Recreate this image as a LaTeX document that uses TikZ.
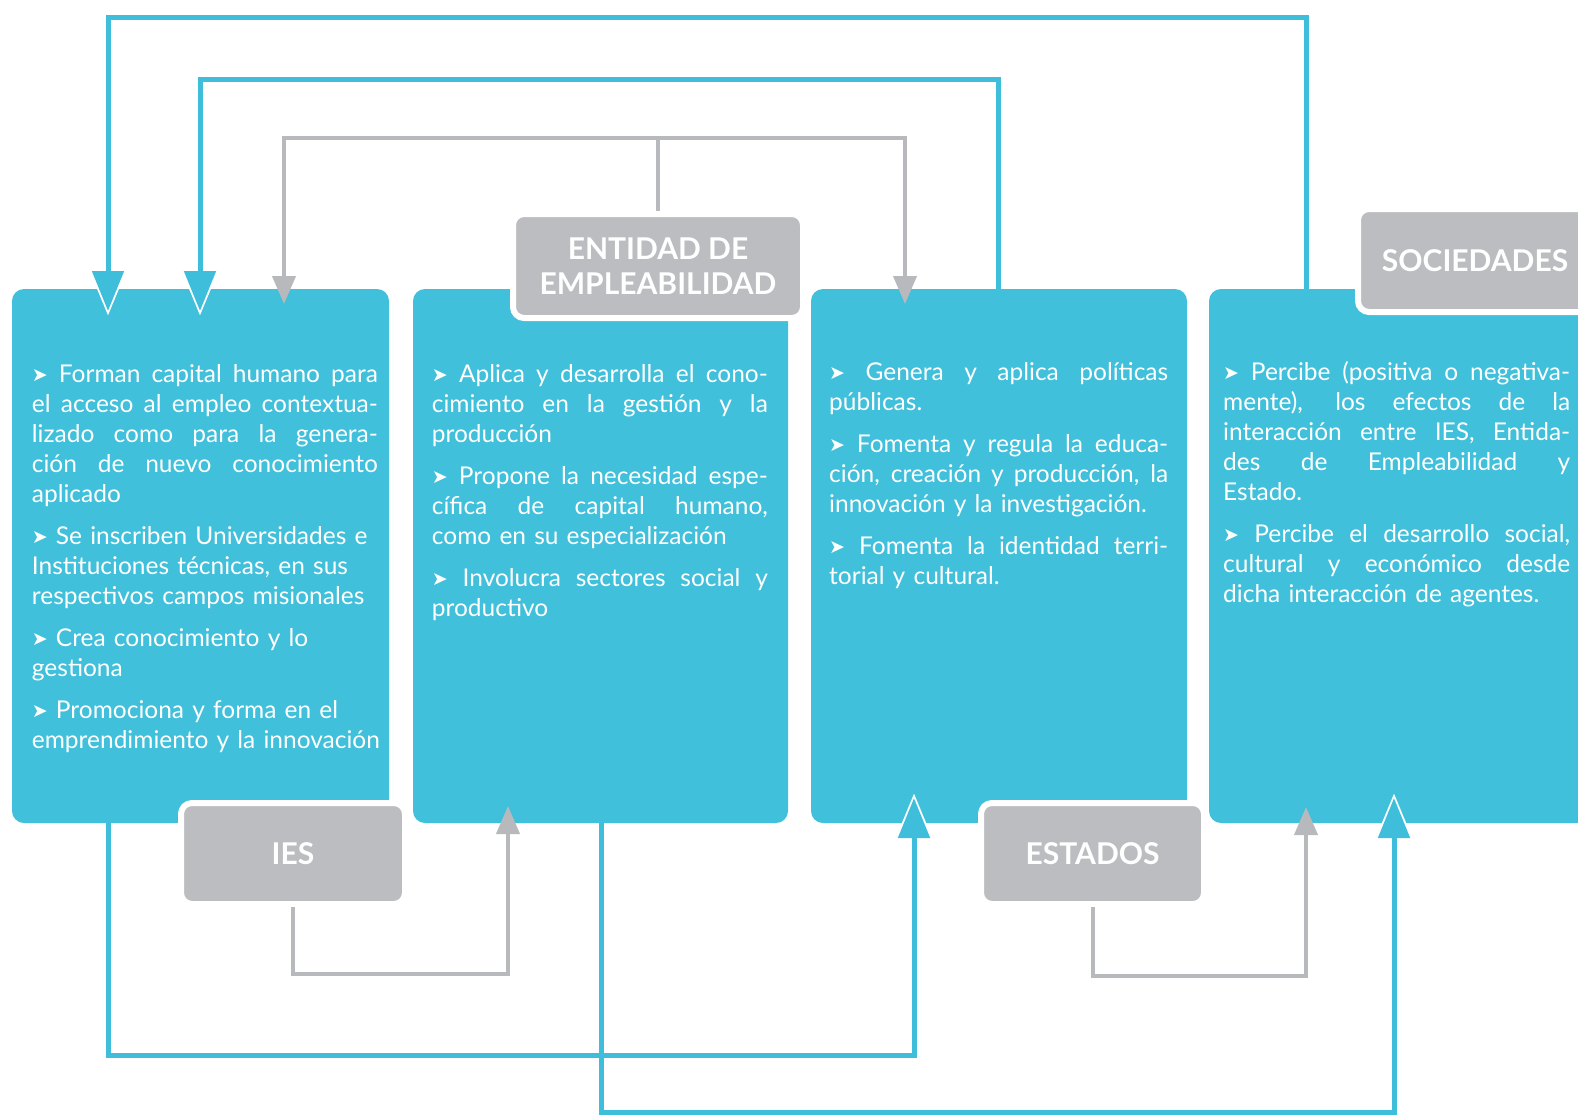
\documentclass[tikz,border=0pt]{standalone}
\usepackage{fontspec}
\setmainfont{Lato}
\newfontfamily\symf{DejaVu Sans}
\usetikzlibrary{arrows.meta}

\definecolor{cyanbox}{HTML}{40C0DA}
\definecolor{cyanln}{HTML}{3EBEDA}
\definecolor{graylab}{HTML}{BCBDC0}
\definecolor{grayln}{HTML}{B8B9BC}

% bullet, justified line, ragged line, paragraph gap
\newcommand\bul{{\symf\fontsize{19}{19}\selectfont\raisebox{0.5pt}{➤}} }
\newcommand\jline[1]{\par\hbox to \hsize{\spaceskip=\fontdimen2\font plus 1fil\relax\rule{0pt}{20pt}#1}}
\newcommand\lline[1]{\par\hbox to \hsize{\rule{0pt}{20pt}#1\hfil}}
\newcommand\pgap{\par\vspace{12pt}}

% blue connector: white halo under the tip, then the cyan line and tip
\newcommand\bluepath[1]{%
  \draw[bunder] #1;
  \draw[bover] #1;}

\tikzset{
  box/.style={fill=cyanbox, rounded corners=12pt, inner sep=0pt},
  lab/.style={fill=graylab, draw=white, line width=6pt, rounded corners=11pt,
    text=white, font=\fontsize{30}{35}\selectfont\bfseries, align=center, inner sep=0pt},
  txt/.style={anchor=north west, inner sep=0pt, text=white, align=left,
    font=\fontsize{24.5}{30}\selectfont,
    execute at begin node={\setlength\parindent{0pt}\baselineskip=30pt}},
  bover/.style={draw=cyanln, line width=5pt, -{Triangle[width=31pt,length=40pt]}},
  bunder/.style={draw=white, line width=5pt, shorten >=-4.5pt,
    -{Triangle[width=40pt,length=50pt]}},
  gline/.style={draw=grayln, line width=4pt, -{Triangle[width=23pt,length=28pt]}},
}

\begin{document}
\begin{tikzpicture}[x=1pt,y=-1pt]
\useasboundingbox (0,0) rectangle (1578,1116);
\fill[white] (0,0) rectangle (1578,1116);

% the four actor panels
\node[box, minimum width=377pt, minimum height=534pt] (b1) at (200.5,556) {};
\node[box, minimum width=375pt, minimum height=534pt] (b2) at (600.5,556) {};
\node[box, minimum width=376pt, minimum height=534pt] (b3) at (999,556) {};
\node[box, minimum width=401pt, minimum height=534pt] (b4) at (1409.5,556) {};

% routing points
\coordinate (k1) at (1306,18);   \coordinate (k2) at (108,18);   \coordinate (a1) at (108,311);
\coordinate (k3) at (998,79);    \coordinate (k4) at (200,79);   \coordinate (a2) at (200,311);
\coordinate (k5) at (658,138);   \coordinate (k6) at (284,138);  \coordinate (a3) at (284,304);
\coordinate (k7) at (905,138);   \coordinate (a4) at (905,304);
\coordinate (k8) at (108,1055);  \coordinate (k9) at (914,1055); \coordinate (a5) at (914,798);
\coordinate (k10) at (601,1112); \coordinate (k11) at (1394,1112); \coordinate (a6) at (1394,798);
\coordinate (k12) at (293,974);  \coordinate (k13) at (508,974); \coordinate (a7) at (508,806);
\coordinate (k14) at (1092.5,976); \coordinate (k15) at (1306,976); \coordinate (a8) at (1306,807);

% labels
\node[lab, minimum width=290pt, minimum height=104pt] (ent) at (658,266) {ENTIDAD DE\\EMPLEABILIDAD};
\node[lab, minimum width=234pt, minimum height=103pt] (soc) at (1475,260.5) {SOCIEDADES};
\node[lab, minimum width=224pt, minimum height=101pt] (ies) at (293,853.5) {IES};
\node[lab, minimum width=223pt, minimum height=101pt] (est) at (1092.5,853.5) {ESTADOS};

% connectors
\bluepath{(b4.north -| k1) -- (k1) -- (k2) -- (a1)}
\bluepath{(b3.north -| k3) -- (k3) -- (k4) -- (a2)}
\draw[gline] (ent.north) -- (k5) -- (k6) -- (a3);
\draw[gline] (k5) -- (k7) -- (a4);
\bluepath{(b1.south -| k8) -- (k8) -- (k9) -- (a5)}
\bluepath{(b2.south -| k10) -- (k10) -- (k11) -- (a6)}
\draw[gline] (ies.south) -- (k12) -- (k13) -- (a7);
\draw[gline] (est.south) -- (k14) -- (k15) -- (a8);

% panel texts
\node[txt, text width=346pt] (t1) at (31.7,352) {%
\jline{\bul Forman capital humano para}
\jline{el acceso al empleo contextua-}
\jline{lizado como para la genera-}
\jline{ción de nuevo conocimiento}
\lline{aplicado}\pgap
\lline{\bul Se inscriben Universidades e}
\lline{Instituciones técnicas, en sus}
\lline{respectivos campos misionales}\pgap
\lline{\bul Crea conocimiento y lo}
\lline{gestiona}\pgap
\lline{\bul Promociona y forma en el}
\lline{emprendimiento y la innovación}\par};

\node[txt, text width=336pt] (t2) at (431.7,352) {%
\jline{\bul Aplica y desarrolla el cono-}
\jline{cimiento en la gestión y la}
\lline{producción}\pgap
\jline{\bul Propone la necesidad espe-}
\jline{cífica de capital humano,}
\lline{como en su especialización}\pgap
\jline{\bul Involucra sectores social y}
\lline{productivo}\par};

\node[txt, text width=339pt] (t3) at (829,350) {%
\jline{\bul Genera y aplica políticas}
\lline{públicas.}\pgap
\jline{\bul Fomenta y regula la educa-}
\jline{ción, creación y producción, la}
\lline{innovación y la investigación.}\pgap
\jline{\bul Fomenta la identidad terri-}
\lline{torial y cultural.}\par};

\node[txt, text width=347pt] (t4) at (1223,350) {%
\jline{\bul Percibe (positiva o negativa-}
\jline{mente), los efectos de la}
\jline{interacción entre IES, Entida-}
\jline{des de Empleabilidad y}
\lline{Estado.}\pgap
\jline{\bul Percibe el desarrollo social,}
\jline{cultural y económico desde}
\lline{dicha interacción de agentes.}\par};
\end{tikzpicture}
\end{document}
